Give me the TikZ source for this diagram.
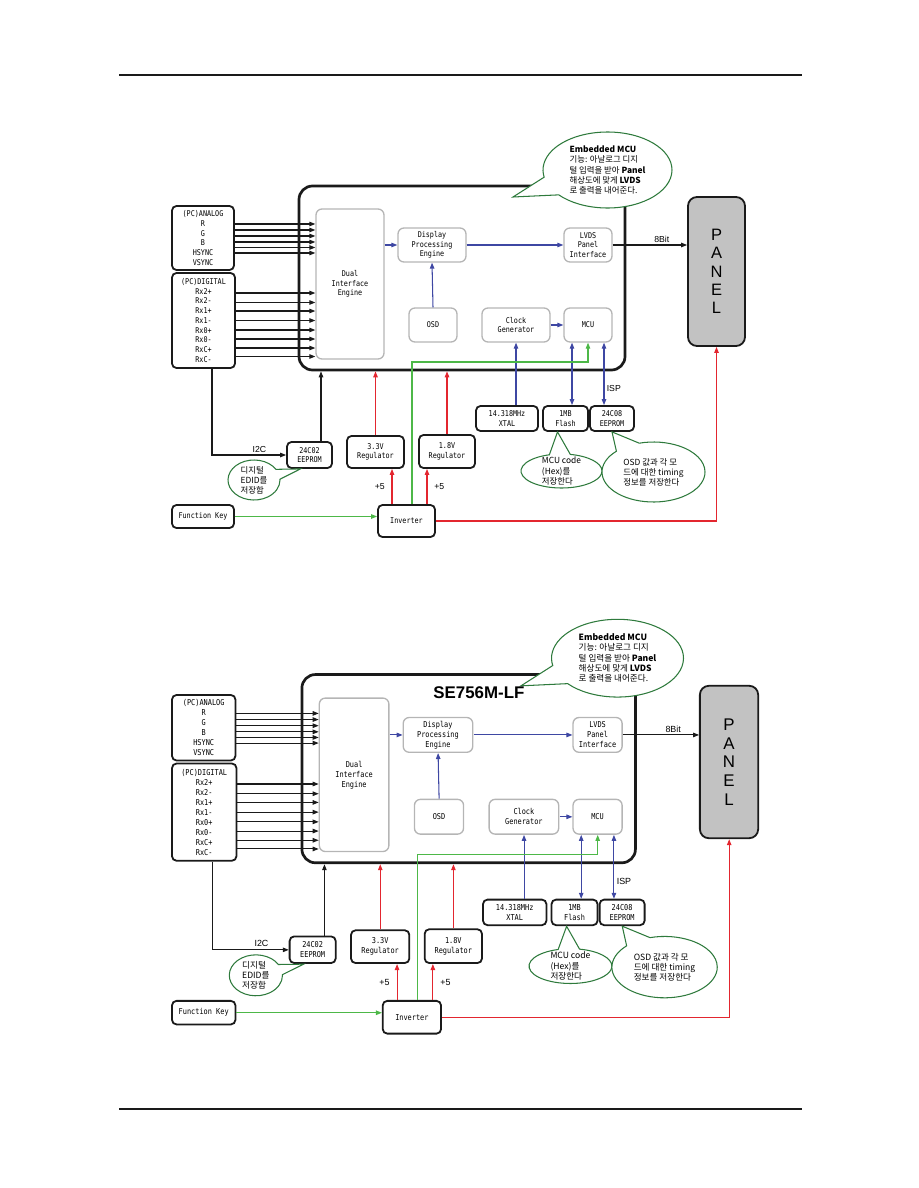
\documentclass[tikz,border=0pt]{standalone}
\usepackage{fontspec}
\setmainfont{Liberation Sans}
\newfontfamily\krfont{Noto Sans CJK KR}
\newfontfamily\boxfont[FakeStretch=0.85]{DejaVu Sans Mono}
\usepackage{xcolor}
\definecolor{cLine}{HTML}{1A1A1A}
\definecolor{cInner}{HTML}{B5B5B5}
\definecolor{cBlue}{HTML}{3E47A3}
\definecolor{cRed}{HTML}{E3262F}
\definecolor{cGreen}{HTML}{4DB848}
\definecolor{cNote}{HTML}{2E7A3C}
\definecolor{cPanel}{HTML}{C2C2C2}
\usepackage{tikz}
\usetikzlibrary{arrows.meta,calc,shapes.callouts}
\newlength{\px}
\setlength{\px}{0.6667pt}
\newcommand{\boxtext}{\boxfont\fontsize{5.3pt}{6.5pt}\selectfont}
\newcommand{\notetext}{\krfont\fontsize{5.6pt}{6.7pt}\selectfont}
\newcommand{\labeltext}{\fontsize{5.8pt}{7pt}\selectfont}
\tikzset{
  block-ext/.style={draw=cLine,line width=1.2pt,rounded corners=3pt,fill=white,
    align=center,inner sep=1pt,font=\boxtext},
  block-int/.style={draw=cInner,line width=0.9pt,rounded corners=4pt,
    align=center,inner sep=1pt,font=\boxtext},
  chip-box/.style={draw=cLine,line width=1.8pt,rounded corners=9pt},
  panel-box/.style={draw=cLine,line width=1.2pt,rounded corners=6pt,fill=cPanel,
    align=center,font=\fontsize{11pt}{12.25pt}\selectfont},
  note/.style={ellipse callout,draw=cNote,line width=0.7pt,fill=white,align=left,
    inner xsep=0pt,inner ysep=0pt,callout pointer arc=30,font=\notetext},
  label-text/.style={font=\labeltext,inner sep=1.5pt},
  title-text/.style={font=\bfseries\fontsize{11pt}{12pt}\selectfont},
  arrow-sig/.style={-{Triangle[length=4pt,width=3pt]},line width=0.7pt,draw=cLine},
  arrow-blue/.style={-{Triangle[length=4pt,width=3pt]},line width=0.7pt,draw=cBlue},
  arrow-blue-both/.style={{Triangle[length=4pt,width=3pt]}-{Triangle[length=4pt,width=3pt]},
    line width=0.7pt,draw=cBlue},
  arrow-red/.style={-{Triangle[length=4pt,width=3pt]},line width=0.7pt,draw=cRed},
  arrow-green/.style={-{Triangle[length=4pt,width=3pt]},line width=0.7pt,draw=cGreen},
  rule-line/.style={line width=1.6pt,draw=cLine},
}
% one block diagram, in the pixel frame of the upper copy
\newcommand{\blockdiagram}{%
  \node[chip-box,minimum width=326\px,minimum height=184\px] (chip) at (462,278) {};
  \node[block-int,minimum width=68\px,minimum height=150\px] (dual) at (350,284) {Dual\\Interface\\Engine};
  \node[block-int,minimum width=68\px,minimum height=34\px] (display) at (432,245) {Display\\Processing\\Engine};
  \node[block-int,minimum width=48\px,minimum height=34\px] (osd) at (433,325) {OSD};
  \node[block-int,minimum width=48\px,minimum height=34\px] (lvds) at (588,245) {LVDS\\Panel\\Interface};
  \node[block-int,minimum width=68\px,minimum height=34\px] (clockgen) at (516,325) {Clock\\Generator};
  \node[block-int,minimum width=48\px,minimum height=34\px] (mcu) at (588,325) {MCU};
  \node[block-ext,minimum width=62\px,minimum height=64\px] (analog) at (203,238) {(PC)ANALOG\\R\\G\\B\\HSYNC\\VSYNC};
  \node[block-ext,minimum width=63\px,minimum height=95\px] (digital) at (203.5,320.5) {(PC)DIGITAL\\Rx2+\\Rx2-\\Rx1+\\Rx1-\\Rx0+\\Rx0-\\RxC+\\RxC-};
  \node[panel-box,minimum width=57\px,minimum height=149\px] (panel) at (716.5,271.5) {P\\A\\N\\E\\L};
  \node[block-ext,minimum width=45\px,minimum height=26\px] (eeprom-i2c) at (309.5,455) {24C02\\EEPROM};
  \node[block-ext,minimum width=57\px,minimum height=32\px] (reg-a) at (375.5,452) {3.3V\\Regulator};
  \node[block-ext,minimum width=56\px,minimum height=33\px] (reg-b) at (447,451.5) {1.8V\\Regulator};
  \node[block-ext,minimum width=57\px,minimum height=32\px] (inverter) at (406.5,521) {Inverter};
  \node[block-ext,minimum width=62\px,minimum height=23\px] (fkey) at (203,516.5) {Function Key};
  \node[block-ext,minimum width=62\px,minimum height=25\px] (xtal) at (507,418.5) {14.318MHz\\XTAL};
  \node[block-ext,minimum width=45\px,minimum height=25\px] (flash) at (565.5,418.5) {1MB\\Flash};
  \node[block-ext,minimum width=44\px,minimum height=25\px] (eeprom-isp) at (612,418.5) {24C08\\EEPROM};
  \foreach \yy in {224,230,236,242,247.5,253}
    \draw[arrow-sig] (analog.east |- 0,\yy) -- (dual.west |- 0,\yy);
  \foreach \yy in {293,302.5,311,320.5,330,339,348,356.5}
    \draw[arrow-sig] (digital.east |- 0,\yy) -- (dual.west |- 0,\yy);
  \draw[arrow-blue] (dual.east |- display.west) -- (display.west);
  \draw[arrow-blue] (display.east) -- (lvds.west);
  \draw[arrow-blue] (osd.north) -- (display.south);
  \draw[arrow-blue] (clockgen.east) -- (mcu.west);
  \draw[arrow-sig] (lvds.east) -- node[label-text,above,pos=0.66]{8Bit} (lvds.east -| panel.west);
  \draw[arrow-blue] (clockgen.south |- xtal.north) -- (clockgen.south);
  \draw[arrow-blue-both] (572,0 |- flash.north) -- (572,0 |- mcu.south);
  \draw[arrow-blue-both] (604,0 |- eeprom-isp.north) -- node[label-text,right,pos=0.27]{ISP} (604,0 |- mcu.south);
  \draw[arrow-sig] (321,0 |- eeprom-i2c.north) -- (321,0 |- chip.south);
  \draw[arrow-sig] (212,0 |- digital.south) |- node[label-text,above,pos=0.82]{I2C} (eeprom-i2c.west);
  \draw[arrow-red] (reg-a.north) -- (reg-a.north |- chip.south);
  \draw[arrow-red] (reg-b.north) -- (reg-b.north |- chip.south);
  \draw[arrow-red] (392,0 |- inverter.north) -- node[label-text,left=3pt]{+5} (392,0 |- reg-a.south);
  \draw[arrow-red] (427,0 |- inverter.north) -- node[label-text,right=3pt]{+5} (427,0 |- reg-b.south);
  \coordinate (green-turn) at (412,362);
  \draw[arrow-green] (green-turn |- inverter.north) -- (green-turn) -| (mcu.south);
  \draw[arrow-green] (fkey.east) -- (fkey.east -| inverter.west);
  \draw[arrow-red] (inverter.east) -| (panel.south);
  % callouts
  \coordinate (mcu-tip) at (513,197);
  \coordinate (edid-tip) at ($(eeprom-i2c.south)+(-9,0)$);
  \coordinate (code-tip) at ($(flash.south)+(-8,0)$);
  \node[note,minimum width=129\px,minimum height=76\px,callout absolute pointer={(mcu-tip)}] (mcu-note) at (607.5,170)
    {\textbf{Embedded MCU}\\기능: 아날로그 디지\\털 입력을 받아 \textbf{Panel}\\해상도에 맞게 \textbf{LVDS}\\로 출력을 내어준다.};
  \node[note,minimum width=52\px,minimum height=40\px,callout absolute pointer={(edid-tip)}] (edid-note) at (254,480)
    {디지털\\EDID를\\저장함};
  \node[note,inner ysep=-2pt,minimum width=81\px,minimum height=34\px,callout absolute pointer={(code-tip)}] (code-note) at (561.5,471)
    {MCU code\\(Hex)를\\저장한다};
  \node[note,minimum width=103\px,minimum height=60\px,callout absolute pointer={(eeprom-isp.south)}] (osd-note) at (653.5,472)
    {OSD 값과 각 모\\드에 대한 timing\\정보를 저장한다};
}

\begin{document}
\begin{tikzpicture}[x=\px,y=-\px]
  \useasboundingbox (0,0) rectangle (918,1188);
  \draw[rule-line] (119,75) -- (802,75);
  \draw[rule-line] (119,1109) -- (802,1109);
  \begin{scope}[name prefix=top-]
    \blockdiagram
  \end{scope}
  \begin{scope}[shift={(-3.956,484.262)},scale=1.023,transform shape,name prefix=bot-]
    \blockdiagram
    \node[title-text] (chip-title) at (472,204) {SE756M-LF};
  \end{scope}
\end{tikzpicture}
\end{document}
